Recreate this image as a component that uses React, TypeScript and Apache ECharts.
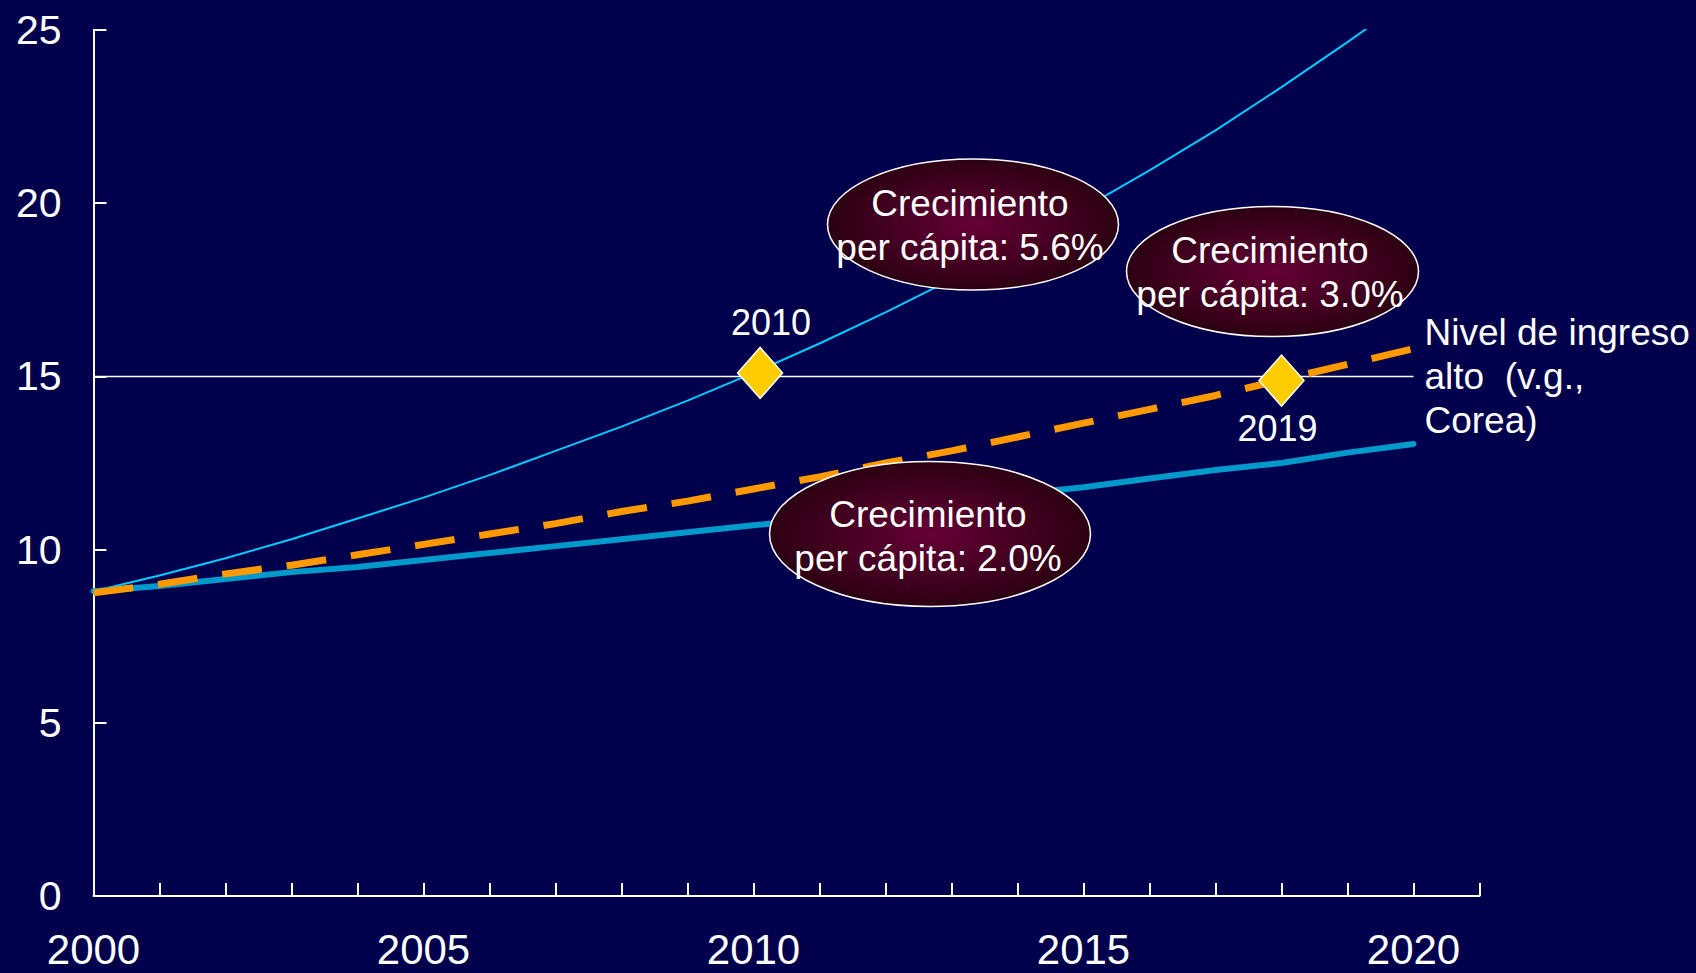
import React, { useEffect, useRef } from "react";
import * as echarts from "echarts";

const YEARS = [2000, 2001, 2002, 2003, 2004, 2005, 2006, 2007, 2008, 2009, 2010, 2011, 2012, 2013, 2014, 2015, 2016, 2017, 2018, 2019, 2020];
const GROWTH_56 = [8.8, 9.25, 9.75, 10.3, 10.9, 11.5, 12.15, 12.85, 13.55, 14.3, 15.1, 15.95, 16.85, 17.8, 18.8, 19.85, 20.95, 22.1, 23.35, 24.65, 26.0];
const GROWTH_30 = [8.75, 9.0, 9.3, 9.55, 9.85, 10.15, 10.45, 10.75, 11.1, 11.4, 11.75, 12.1, 12.5, 12.85, 13.25, 13.65, 14.05, 14.45, 14.9, 15.35, 15.8];
const GROWTH_20 = [8.8, 8.95, 9.15, 9.35, 9.5, 9.7, 9.9, 10.1, 10.3, 10.5, 10.7, 10.9, 11.15, 11.35, 11.6, 11.8, 12.05, 12.3, 12.5, 12.8, 13.05];
const HIGH_INCOME_X = [2000, 2020];
const HIGH_INCOME_Y = [15, 15];
const HIGH_INCOME_LABEL = "Nivel de ingreso\nalto  (v.g.,\nCorea)";
const MILESTONE_X = [2010.1, 2018];
const MILESTONE_Y = [15.1, 14.88];
const MILESTONE_LABELS = ["2010", "2019"];
const BUBBLE_TEXTS = [
  "Crecimiento\nper cápita: 5.6%",
  "Crecimiento\nper cápita: 3.0%",
  "Crecimiento\nper cápita: 2.0%",
];

const FONT = '"Liberation Sans", Arial, sans-serif';
const BG = "#00004C";

export default function App() {
  const ref = useRef<HTMLDivElement>(null);
  useEffect(() => {
    if (!ref.current) return;
    const chart = echarts.init(ref.current, undefined, { renderer: "svg" });

    const grad = () =>
      new echarts.graphic.RadialGradient(0.5, 0.5, 0.5, [
        { offset: 0, color: "#660036" },
        { offset: 1, color: "#2C0012" },
      ]);

    const bubbles = [
      { cx: 973, cy: 224.5, rx: 145.5, ry: 65.5, tx: 970, ty: 225 },
      { cx: 1272.5, cy: 271.5, rx: 146, ry: 65, tx: 1270, ty: 272.5 },
      { cx: 930, cy: 534, rx: 160.5, ry: 72.5, tx: 928, ty: 536.5 },
    ];

    const graphic: any[] = [];
    bubbles.forEach((b, i) => {
      graphic.push({
        type: "ellipse",
        z: 100,
        shape: { cx: b.cx, cy: b.cy, rx: b.rx, ry: b.ry },
        style: { fill: grad(), stroke: "#FFFFFF", lineWidth: 1.5 },
      });
      graphic.push({
        type: "text",
        z: 101,
        x: b.tx,
        y: b.ty,
        style: {
          text: BUBBLE_TEXTS[i],
          fill: "#FFFFFF",
          font: `37px ${FONT}`,
          lineHeight: 44,
          align: "center",
          verticalAlign: "middle",
        },
      });
    });

    const milestoneData = MILESTONE_X.map((x, i) => ({
      value: [x, MILESTONE_Y[i]],
      label: {
        show: true,
        formatter: MILESTONE_LABELS[i],
        position: i === 0 ? "top" : "bottom",
        distance: i === 0 ? 6 : 4,
        offset: i === 0 ? [11, 0] : [-4, 0],
        color: "#FFFFFF",
        fontSize: 36,
        fontFamily: FONT,
      },
    }));

    chart.setOption({
      animation: false,
      backgroundColor: BG,
      textStyle: { fontFamily: FONT },
      grid: { left: 93.5, right: 216.5, top: 30, bottom: 77, containLabel: false },
      xAxis: {
        type: "value",
        min: 2000,
        max: 2021,
        interval: 1,
        axisLine: { show: true, lineStyle: { color: "#FFFFFF", width: 2 } },
        axisTick: { show: true, inside: true, length: 13, lineStyle: { color: "#FFFFFF", width: 2 } },
        axisLabel: {
          color: "#FFFFFF",
          fontSize: 42,
          lineHeight: 40,
          fontFamily: FONT,
          margin: 33,
          formatter: (v: number) => (v % 5 === 0 && v <= 2020 ? String(v) : ""),
        },
        splitLine: { show: false },
      },
      yAxis: {
        type: "value",
        min: 0,
        max: 25,
        interval: 5,
        axisLine: { show: true, lineStyle: { color: "#FFFFFF", width: 2 } },
        axisTick: { show: true, inside: true, length: 13, lineStyle: { color: "#FFFFFF", width: 2 } },
        axisLabel: { color: "#FFFFFF", fontSize: 41, fontFamily: FONT, margin: 32 },
        splitLine: { show: false },
      },
      graphic,
      series: [
        {
          name: "Nivel de ingreso alto",
          type: "line",
          data: HIGH_INCOME_X.map((x, i) => [x, HIGH_INCOME_Y[i]]),
          showSymbol: false,
          lineStyle: { color: "#FFFFFF", width: 1.5 },
          z: 3,
          endLabel: {
            show: true,
            formatter: HIGH_INCOME_LABEL,
            color: "#FFFFFF",
            fontSize: 37,
            fontFamily: FONT,
            lineHeight: 44,
            distance: 11,
            align: "left",
          },
        },
        {
          name: "5.6%",
          type: "line",
          data: YEARS.map((y, i) => [y, GROWTH_56[i]]),
          showSymbol: false,
          clip: true,
          lineStyle: { color: "#00CCFF", width: 2 },
          z: 4,
        },
        {
          name: "2.0%",
          type: "line",
          data: YEARS.map((y, i) => [y, GROWTH_20[i]]),
          showSymbol: false,
          lineStyle: { color: "#0099CC", width: 6, cap: "round" },
          z: 5,
        },
        {
          name: "3.0%",
          type: "line",
          data: YEARS.map((y, i) => [y, GROWTH_30[i]]),
          showSymbol: false,
          lineStyle: { color: "#FF9900", width: 7, type: [40, 25] },
          z: 6,
        },
        {
          name: "Hitos",
          type: "scatter",
          data: milestoneData,
          symbol: "diamond",
          symbolSize: [45, 51],
          itemStyle: { color: "#FFCC00", borderColor: "#FFFFFF", borderWidth: 1.5, opacity: 1 },
          z: 10,
        },
      ],
    });
    return () => chart.dispose();
  }, []);

  return (
    <div
      ref={ref}
      style={{ position: "fixed", left: 0, top: 0, width: 1696, height: 973, background: BG }}
    />
  );
}
